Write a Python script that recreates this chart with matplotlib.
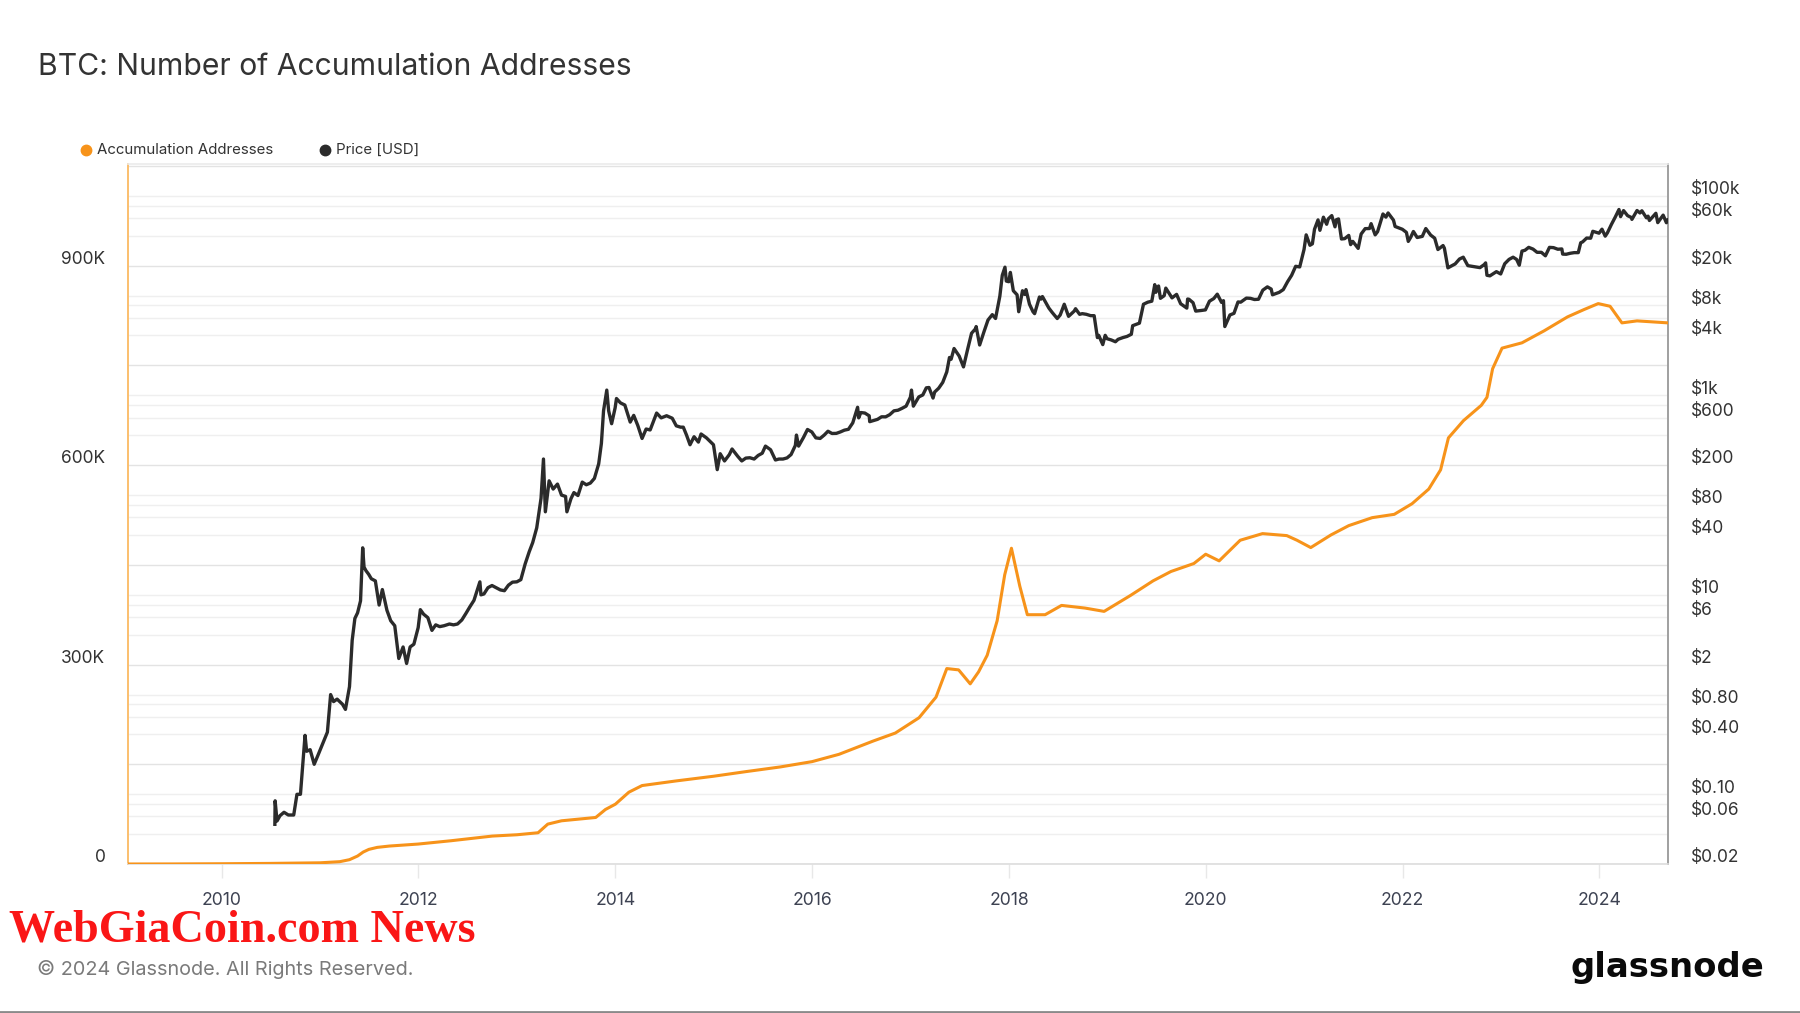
import matplotlib
matplotlib.use("Agg")
import matplotlib.pyplot as plt
from matplotlib.lines import Line2D
from matplotlib.ticker import FixedLocator, FuncFormatter, NullLocator
from matplotlib.transforms import ScaledTranslation
import pandas as pd

plt.rcParams['font.family'] = ['Inter', 'DejaVu Sans']

# ---------------- data ----------------
price_dates = [
    "2010-07-17", "2010-07-18", "2010-07-25", "2010-08-05", "2010-08-20", "2010-09-05", "2010-09-25",
    "2010-10-07", "2010-10-20", "2010-11-06", "2010-11-12", "2010-11-25", "2010-12-10", "2010-12-25",
    "2011-01-10", "2011-01-28", "2011-02-09", "2011-02-20", "2011-03-05", "2011-03-25", "2011-04-05",
    "2011-04-20", "2011-04-30", "2011-05-10", "2011-05-20", "2011-05-31", "2011-06-08", "2011-06-13",
    "2011-06-20", "2011-06-30", "2011-07-10", "2011-07-25", "2011-08-08", "2011-08-20", "2011-09-06",
    "2011-09-20", "2011-10-05", "2011-10-20", "2011-11-05", "2011-11-18", "2011-12-01", "2011-12-15",
    "2011-12-31", "2012-01-08", "2012-01-20", "2012-02-05", "2012-02-20", "2012-03-05", "2012-03-20",
    "2012-04-05", "2012-04-25", "2012-05-10", "2012-05-25", "2012-06-10", "2012-06-25", "2012-07-10",
    "2012-07-25", "2012-08-16", "2012-08-20", "2012-08-31", "2012-09-15", "2012-09-30", "2012-10-15",
    "2012-10-31", "2012-11-15", "2012-11-30", "2012-12-15", "2012-12-31", "2013-01-15", "2013-01-31",
    "2013-02-15", "2013-02-28", "2013-03-15", "2013-03-31", "2013-04-09", "2013-04-16", "2013-04-30",
    "2013-05-15", "2013-05-31", "2013-06-15", "2013-06-30", "2013-07-05", "2013-07-20", "2013-07-31",
    "2013-08-15", "2013-08-31", "2013-09-15", "2013-09-30", "2013-10-15", "2013-10-31", "2013-11-10",
    "2013-11-18", "2013-11-30", "2013-12-07", "2013-12-18", "2013-12-31", "2014-01-05", "2014-01-20",
    "2014-02-05", "2014-02-25", "2014-03-10", "2014-03-25", "2014-04-10", "2014-04-25", "2014-05-10",
    "2014-05-31", "2014-06-03", "2014-06-20", "2014-07-10", "2014-07-31", "2014-08-15", "2014-08-31",
    "2014-09-10", "2014-09-22", "2014-10-05", "2014-10-20", "2014-11-05", "2014-11-15", "2014-12-05",
    "2014-12-31", "2015-01-14", "2015-01-25", "2015-02-10", "2015-02-28", "2015-03-10", "2015-03-31",
    "2015-04-15", "2015-04-30", "2015-05-15", "2015-05-31", "2015-06-15", "2015-06-30", "2015-07-12",
    "2015-07-31", "2015-08-18", "2015-08-31", "2015-09-15", "2015-09-30", "2015-10-15", "2015-10-31",
    "2015-11-04", "2015-11-12", "2015-11-30", "2015-12-15", "2015-12-31", "2016-01-15", "2016-01-31",
    "2016-02-15", "2016-02-29", "2016-03-15", "2016-03-31", "2016-04-15", "2016-04-30", "2016-05-15",
    "2016-05-31", "2016-06-18", "2016-06-22", "2016-06-30", "2016-07-15", "2016-07-31", "2016-08-02",
    "2016-08-31", "2016-09-15", "2016-09-30", "2016-10-15", "2016-10-31", "2016-11-15", "2016-11-30",
    "2016-12-15", "2016-12-31", "2017-01-04", "2017-01-11", "2017-01-31", "2017-02-15", "2017-02-28",
    "2017-03-10", "2017-03-25", "2017-03-31", "2017-04-15", "2017-04-30", "2017-05-15", "2017-05-25",
    "2017-05-31", "2017-06-11", "2017-06-30", "2017-07-16", "2017-07-31", "2017-08-15", "2017-08-31",
    "2017-09-01", "2017-09-14", "2017-09-30", "2017-10-15", "2017-10-31", "2017-11-12", "2017-11-28",
    "2017-12-07", "2017-12-17", "2017-12-22", "2017-12-31", "2018-01-06", "2018-01-17", "2018-01-31",
    "2018-02-06", "2018-02-20", "2018-02-28", "2018-03-05", "2018-03-18", "2018-03-31", "2018-04-06",
    "2018-04-24", "2018-04-30", "2018-05-05", "2018-05-29", "2018-06-10", "2018-06-29", "2018-07-10",
    "2018-07-25", "2018-08-10", "2018-08-31", "2018-09-05", "2018-09-20", "2018-09-30", "2018-10-15",
    "2018-10-31", "2018-11-13", "2018-11-25", "2018-11-30", "2018-12-15", "2018-12-24", "2018-12-31",
    "2019-01-15", "2019-01-31", "2019-02-10", "2019-02-28", "2019-03-15", "2019-03-31", "2019-04-05",
    "2019-04-30", "2019-05-15", "2019-05-31", "2019-06-15", "2019-06-26", "2019-06-30", "2019-07-10",
    "2019-07-17", "2019-07-31", "2019-08-06", "2019-08-29", "2019-09-15", "2019-09-30", "2019-10-23",
    "2019-10-26", "2019-10-31", "2019-11-15", "2019-11-25", "2019-12-15", "2019-12-31", "2020-01-15",
    "2020-01-31", "2020-02-13", "2020-02-29", "2020-03-07", "2020-03-12", "2020-03-31", "2020-04-15",
    "2020-04-30", "2020-05-10", "2020-05-31", "2020-06-15", "2020-06-30", "2020-07-15", "2020-07-31",
    "2020-08-17", "2020-08-31", "2020-09-05", "2020-09-30", "2020-10-15", "2020-10-31", "2020-11-15",
    "2020-11-30", "2020-12-15", "2020-12-31", "2021-01-08", "2021-01-22", "2021-01-31", "2021-02-08",
    "2021-02-21", "2021-02-28", "2021-03-13", "2021-03-25", "2021-03-31", "2021-04-13", "2021-04-25",
    "2021-04-30", "2021-05-08", "2021-05-19", "2021-05-31", "2021-06-15", "2021-06-22", "2021-06-30",
    "2021-07-20", "2021-07-31", "2021-08-15", "2021-08-31", "2021-09-06", "2021-09-21", "2021-09-30",
    "2021-10-20", "2021-10-31", "2021-11-08", "2021-11-28", "2021-12-04", "2021-12-31", "2022-01-15",
    "2022-01-22", "2022-01-31", "2022-02-10", "2022-02-24", "2022-03-15", "2022-03-28", "2022-04-15",
    "2022-04-30", "2022-05-12", "2022-05-31", "2022-06-05", "2022-06-18", "2022-06-30", "2022-07-15",
    "2022-07-31", "2022-08-14", "2022-08-31", "2022-09-15", "2022-09-30", "2022-10-15", "2022-10-31",
    "2022-11-05", "2022-11-10", "2022-11-21", "2022-12-15", "2022-12-31", "2023-01-15", "2023-01-31",
    "2023-02-15", "2023-02-28", "2023-03-10", "2023-03-20", "2023-03-31", "2023-04-14", "2023-04-30",
    "2023-05-15", "2023-05-31", "2023-06-15", "2023-06-30", "2023-07-15", "2023-07-31", "2023-08-15",
    "2023-08-18", "2023-08-31", "2023-09-15", "2023-09-30", "2023-10-15", "2023-10-24", "2023-10-31",
    "2023-11-15", "2023-11-30", "2023-12-08", "2023-12-31", "2024-01-11", "2024-01-23", "2024-01-31",
    "2024-02-15", "2024-02-29", "2024-03-14", "2024-03-20", "2024-03-31", "2024-04-15", "2024-04-30",
    "2024-05-01", "2024-05-20", "2024-05-31", "2024-06-07", "2024-06-24", "2024-06-30", "2024-07-05",
    "2024-07-29", "2024-08-05", "2024-08-25", "2024-08-31", "2024-09-06", "2024-09-11",
]
price_usd = [
    0.05, 0.086, 0.054, 0.061, 0.066, 0.062, 0.062,
    0.10, 0.10, 0.39, 0.27, 0.28, 0.20, 0.25,
    0.32, 0.42, 1.00, 0.85, 0.90, 0.80, 0.71,
    1.2, 3.5, 5.8, 6.6, 8.7, 29.6, 19.0,
    17.5, 16.1, 14.5, 13.8, 7.9, 11.3, 7.0,
    5.5, 4.9, 2.3, 3.0, 2.05, 3.0, 3.2,
    4.7, 7.1, 6.4, 5.9, 4.4, 5.0, 4.8,
    4.9, 5.1, 5.0, 5.1, 5.6, 6.5, 7.6,
    8.8, 13.5, 10.0, 10.2, 11.8, 12.4, 11.8,
    11.2, 11.0, 12.5, 13.4, 13.5, 14.2, 20.4,
    27, 33.4, 47, 93, 230, 68, 139,
    115, 129, 100, 97, 68, 92, 106,
    99, 135, 127, 132, 147, 206, 330,
    700, 1130, 700, 520, 750, 930, 840,
    800, 540, 630, 500, 370, 460, 450,
    630, 665, 595, 625, 590, 495, 480,
    480, 400, 320, 385, 340, 410, 375,
    320, 180, 260, 220, 255, 290, 245,
    220, 235, 237, 230, 250, 263, 310,
    285, 225, 230, 230, 236, 255, 315,
    400, 310, 378, 455, 430, 375, 370,
    400, 437, 415, 416, 430, 448, 457,
    530, 760, 595, 673, 665, 624, 545,
    575, 610, 609, 640, 700, 710, 742,
    780, 960, 1130, 780, 965, 1010, 1190,
    1200, 940, 1080, 1180, 1350, 1720, 2400,
    2300, 2950, 2480, 1930, 2870, 4200, 4700,
    4900, 3200, 4340, 5700, 6450, 5900, 9900,
    16000, 19300, 14000, 13800, 17100, 11200, 10200,
    6900, 11200, 10300, 11500, 8200, 6900, 6600,
    9700, 9240, 9800, 7500, 6800, 5900, 6400,
    8200, 6200, 7000, 7400, 6500, 6600, 6500,
    6300, 6300, 3800, 4000, 3230, 4000, 3700,
    3600, 3450, 3650, 3800, 3900, 4100, 5000,
    5300, 8200, 8600, 8800, 12900, 10800, 12500,
    9400, 10000, 11900, 9500, 10300, 8300, 7500,
    9250, 9200, 8500, 7000, 7100, 7200, 8800,
    9350, 10350, 8550, 8900, 4900, 6400, 6650,
    8650, 8600, 9450, 9400, 9150, 9200, 11350,
    12250, 11650, 10200, 10800, 11500, 13800, 16000,
    19700, 19400, 29000, 40700, 32000, 33100, 46400,
    57500, 45200, 61200, 52000, 58800, 63500, 49000,
    57700, 58800, 37000, 37300, 40200, 32500, 35000,
    29800, 41500, 47000, 47100, 52700, 40700, 43800,
    65900, 61300, 67500, 57200, 49400, 46300, 43100,
    35000, 38500, 44000, 38300, 39300, 47100, 40500,
    37700, 29000, 31800, 29900, 19000, 19800, 20800,
    23300, 24300, 20000, 19700, 19400, 19100, 20500,
    21300, 16000, 15800, 17400, 16500, 20900, 23100,
    24300, 23100, 20200, 28000, 28500, 30500, 29300,
    27200, 27200, 25100, 30500, 30300, 29200, 29400,
    26100, 26000, 26600, 27000, 27000, 33900, 34600,
    37800, 37700, 44200, 42300, 46400, 39500, 42600,
    51800, 61200, 73100, 62000, 71300, 63400, 60600,
    58200, 71400, 67500, 71000, 60300, 62700, 56700,
    67000, 54000, 64200, 59000, 53900, 57300,
]

acc_dates = [
    "2009-01-03", "2009-07-01", "2010-01-01", "2010-07-01", "2011-01-01", "2011-03-15", "2011-04-20",
    "2011-05-20", "2011-06-10", "2011-07-01", "2011-08-01", "2011-09-15", "2011-12-31", "2012-05-01",
    "2012-10-01", "2013-01-01", "2013-03-20", "2013-04-25", "2013-06-15", "2013-10-20", "2013-11-25",
    "2014-01-01", "2014-02-20", "2014-04-10", "2014-08-15", "2014-12-31", "2015-05-01", "2015-09-05",
    "2016-01-01", "2016-04-10", "2016-08-15", "2016-11-05", "2017-02-01", "2017-04-05", "2017-05-15",
    "2017-06-28", "2017-08-10", "2017-09-10", "2017-10-12", "2017-11-18", "2017-12-16", "2018-01-10",
    "2018-02-10", "2018-03-10", "2018-05-15", "2018-07-15", "2018-10-10", "2018-12-20", "2019-03-28",
    "2019-06-20", "2019-08-25", "2019-11-18", "2020-01-01", "2020-02-20", "2020-05-08", "2020-07-30",
    "2020-10-28", "2020-12-05", "2021-01-25", "2021-04-10", "2021-06-15", "2021-09-10", "2021-12-01",
    "2022-02-05", "2022-04-08", "2022-05-22", "2022-06-20", "2022-08-15", "2022-10-20", "2022-11-10",
    "2022-12-01", "2023-01-05", "2023-03-20", "2023-06-10", "2023-09-05", "2023-11-05", "2023-12-28",
    "2024-02-10", "2024-03-25", "2024-05-20", "2024-09-12",
]
acc_addresses = [
    0, 100, 400, 900, 1800, 3500, 6500,
    12000, 18000, 22000, 25000, 27000, 30000, 35000,
    42000, 44000, 47000, 60000, 65000, 70000, 82000,
    90000, 108000, 118000, 125000, 132000, 139000, 146000,
    154000, 165000, 185000, 197000, 220000, 251000, 294000,
    292000, 271000, 289000, 314000, 366000, 435000, 475000,
    418000, 375000, 375000, 389000, 385000, 380000, 404000,
    426000, 440000, 452000, 466000, 456000, 487000, 497000,
    494000, 487000, 476000, 495000, 509000, 521000, 526000,
    542000, 564000, 593000, 641000, 667000, 690000, 702000,
    745000, 776000, 784000, 802000, 823000, 834000, 843000,
    839000, 814000, 817000, 814000,
]

year_ticks = [2010, 2012, 2014, 2016, 2018, 2020, 2022, 2024]
price_label_values = [0.02, 0.06, 0.1, 0.4, 0.8, 2, 6, 10, 40, 80, 200, 600, 1000,
                      4000, 8000, 20000, 60000, 100000]
price_label_texts = ["$0.02", "$0.06", "$0.10", "$0.40", "$0.80", "$2", "$6", "$10", "$40",
                     "$80", "$200", "$600", "$1k", "$4k", "$8k", "$20k", "$60k", "$100k"]
acc_tick_values = [0, 300000, 600000, 900000]
acc_tick_texts = ["0", "300K", "600K", "900K"]

# ---------------- figure ----------------
W, H = 1800, 1013
fig = plt.figure(figsize=(W / 100, H / 100), dpi=100)
fig.patch.set_facecolor("white")

ax_l, ax_r, ax_t, ax_b = 128.3, 1668, 164, 864
ax = fig.add_axes([ax_l / W, 1 - ax_b / H, (ax_r - ax_l) / W, (ax_b - ax_t) / H])
ax2 = ax.twinx()

# price axis (log, right side)
px = pd.to_datetime(price_dates)
ax.plot(px, price_usd, color="#2b2b2b", lw=2.4, solid_joinstyle="round", zorder=3)
ax.set_yscale("log")
ax.set_ylim(0.02, 209000)

# gridlines at 1,2,4,6,8 x 10^n ; 2 x 10^n slightly stronger
grid_vals = []
for n in range(-2, 6):
    for m in (1, 2, 4, 6, 8):
        v = m * 10.0 ** n
        if 0.02 <= v <= 209000:
            grid_vals.append((v, m == 2))
for v, strong in grid_vals:
    ax.axhline(v, color="#e3e3e3" if strong else "#efefef", lw=1.0, zorder=0)

ax.yaxis.tick_right()
ax.yaxis.set_major_locator(FixedLocator(price_label_values))
ax.yaxis.set_major_formatter(FuncFormatter(
    lambda v, p: price_label_texts[p] if p is not None and p < len(price_label_texts) else ""))
ax.yaxis.set_minor_locator(NullLocator())
ax.tick_params(axis="y", which="both", length=0, pad=16.5, labelsize=12.5, labelcolor="#333333")

# accumulation axis (linear, left side)
axd = pd.to_datetime(acc_dates)
ax2.plot(axd, acc_addresses, color="#f7931a", lw=2.2, solid_joinstyle="round", zorder=4)
ax2.set_ylim(0, 1053000)
ax2.yaxis.tick_left()
ax2.set_yticks(acc_tick_values)
ax2.set_yticklabels(acc_tick_texts)
ax2.tick_params(axis="y", length=0, pad=16.5, labelsize=12.5, labelcolor="#333333")

# x axis
ax.set_xlim(pd.Timestamp("2009-01-19"), pd.Timestamp("2024-09-12"))
ax.set_xticks([pd.Timestamp(f"{y}-01-01") for y in year_ticks])
ax.set_xticklabels([str(y) for y in year_ticks])
ax.tick_params(axis="x", length=10, width=1, color="#e8e8e8", pad=10.5, labelsize=12.7,
               labelcolor="#3d4252")

# y labels sit just above their gridlines
shift = ScaledTranslation(0, -2.3 / 100, fig.dpi_scale_trans)
for lab in list(ax.get_yticklabels()) + list(ax2.get_yticklabels()):
    lab.set_verticalalignment("bottom")
    lab.set_transform(lab.get_transform() + shift)

# spines
for a in (ax, ax2):
    for s in a.spines.values():
        s.set_visible(False)
ax.spines["left"].set_visible(True)
ax.spines["left"].set_color("#fbbf6e")
ax.spines["left"].set_linewidth(1.4)
ax.spines["right"].set_visible(True)
ax.spines["right"].set_color("#a0a0a0")
ax.spines["right"].set_linewidth(1.4)
ax.spines["top"].set_visible(True)
ax.spines["top"].set_color("#ebebeb")
ax.spines["top"].set_linewidth(1.2)
ax.spines["bottom"].set_visible(True)
ax.spines["bottom"].set_color("#dddddd")
ax.spines["bottom"].set_linewidth(1.2)

# ---------------- texts ----------------
def fx(x):
    return x / W


def fy(y):
    return 1 - y / H


fig.text(fx(38), fy(67), "BTC: Number of Accumulation Addresses", fontsize=21.7,
         color="#333333", va="center", ha="left")

fig.add_artist(Line2D([fx(86)], [fy(150)], marker="o", markersize=7.5, color="#f7931a",
                      transform=fig.transFigure, linestyle="none"))
fig.text(fx(97), fy(150), "Accumulation Addresses", fontsize=10.8, color="#333333",
         va="center", ha="left")
fig.add_artist(Line2D([fx(325)], [fy(150)], marker="o", markersize=7.5, color="#2b2b2b",
                      transform=fig.transFigure, linestyle="none"))
fig.text(fx(336), fy(150), "Price [USD]", fontsize=10.8, color="#333333",
         va="center", ha="left")

fig.text(fx(9), fy(941.5), "WebGiaCoin.com News", fontsize=33.2, color="#fa1616",
         family=["Liberation Serif", "DejaVu Serif"], fontweight="bold",
         va="baseline", ha="left")

fig.text(fx(37), fy(969), "\u00a9 2024 Glassnode. All Rights Reserved.", fontsize=14.3,
         color="#7a7a7a", va="center", ha="left")

fig.text(fx(1570), fy(977), "glassnode", fontsize=24.4, color="#0a0a0a",
         family=["DejaVu Sans"], fontweight="bold", va="baseline", ha="left")

fig.add_artist(Line2D([0, 1], [fy(1011.5), fy(1011.5)], color="#8a8a8a", lw=2,
                      transform=fig.transFigure))

fig.savefig("out.png", dpi=100, facecolor="white")
